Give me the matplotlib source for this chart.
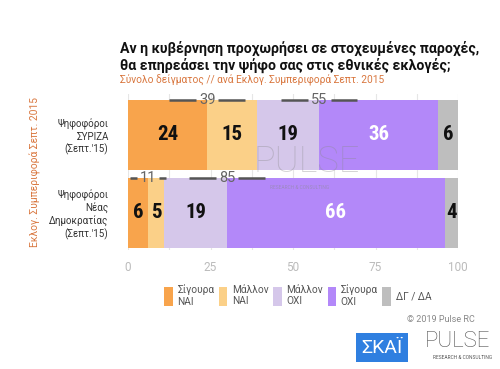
import numpy as np
import matplotlib.pyplot as plt
from matplotlib import font_manager
from matplotlib.patches import Patch

# DATA
groups = ["Ψηφοφόροι\nΣΥΡΙΖΑ\n(Σεπτ.'15)", "Ψηφοφόροι\nΝέας\nΔημοκρατίας\n(Σεπτ.'15)"]
answers = ["Σίγουρα\nΝΑΙ", "Μάλλον\nΝΑΙ", "Μάλλον\nΟΧΙ", "Σίγουρα\nΟΧΙ", "ΔΓ / ΔΑ"]
sure_yes = [24, 6]
maybe_yes = [15, 5]
maybe_no = [19, 19]
sure_no = [36, 66]
dont_know = [6, 4]
yes_total = [39, 11]
no_total = [55, 85]
ticks = [0, 25, 50, 75, 100]

# STYLE
colors = ["#F8A44C", "#FBD088", "#D5C7EA", "#B388F9", "#BEBEBE"]
label_colors = ["#111111", "#111111", "#111111", "white", "#111111"]
plt.rcParams["font.family"] = ["Roboto", "DejaVu Sans"]

# pick a narrow font for the numbers if one is installed
installed = {f.name for f in font_manager.fontManager.ttflist}
narrow = None
for name in ["Roboto Condensed", "Liberation Sans Narrow", "DejaVu Sans Condensed"]:
    if name in installed:
        narrow = name
        break
num_font = dict(family=[narrow, "DejaVu Sans"] if narrow else ["Roboto", "DejaVu Sans"])
num_size = 15 if narrow else 14

fig = plt.figure(figsize=(5, 3.69), dpi=100)
ax = fig.add_axes([0.256, 0.3225, 0.66, 0.4215])

series = [sure_yes, maybe_yes, maybe_no, sure_no, dont_know]
y = np.arange(len(groups))
left = np.zeros(len(groups))
for vals, col, tcol in zip(series, colors, label_colors):
    ax.barh(y, vals, left=left, height=0.9, color=col, zorder=2)
    for i, v in enumerate(vals):
        ax.text(left[i] + v / 2, y[i], str(v), ha="center", va="center",
                fontsize=num_size, fontweight="bold", color=tcol, zorder=4, **num_font)
    left = left + np.array(vals)

# bracket totals
def bracket(center, total, yy):
    half = min(total / 2, 11.5)
    gap = 3.4
    ax.plot([center - half, center - gap], [yy, yy], color="#555555", lw=1.8, zorder=5,
            solid_capstyle="butt")
    ax.plot([center + gap, center + half], [yy, yy], color="#555555", lw=1.8, zorder=5,
            solid_capstyle="butt")
    ax.text(center, yy, str(total), ha="center", va="center", fontsize=10.5,
            color="#666666", zorder=6)

for i in range(len(groups)):
    top = y[i] - 0.45
    bracket(sure_yes[i], yes_total[i], top)
    bracket(sure_yes[i] + maybe_yes[i] + maybe_no[i], no_total[i], top)

ax.set_xlim(0, 100)
ax.set_ylim(1.48, -0.52)
ax.set_xticks(ticks)
ax.set_xticks(np.arange(0, 101, 12.5), minor=True)
ax.tick_params(axis="x", length=0, colors="#BBBBBB", labelsize=8.5, pad=8)
ax.tick_params(axis="x", which="minor", length=0)
ax.grid(axis="x", which="both", color="#E6E6E6", lw=0.8, zorder=0)
ax.set_yticks(y)
ax.set_yticklabels(groups, fontsize=7, color="#333333", ha="right", linespacing=1.2)
ax.tick_params(axis="y", length=0, pad=14)
for s in ax.spines.values():
    s.set_visible(False)

# watermark
ax.text(54, 0.35, "PULSE", ha="center", va="center", fontsize=26, color="#888888",
        alpha=0.35, fontweight="light", zorder=7)
ax.text(52, 0.68, "RESEARCH & CONSULTING", ha="center", va="center", fontsize=3.5,
        color="#888888", alpha=0.5, zorder=7)

# titles
fig.text(0.24, 0.846, "Αν η κυβέρνηση προχωρήσει σε στοχευμένες παροχές,\nθα επηρεάσει την ψήφο σας στις εθνικές εκλογές;",
         fontsize=10.2, fontweight="bold", color="#111111", va="center", linespacing=1.2)
fig.text(0.24, 0.783, "Σύνολο δείγματος // ανά Εκλογ. Συμπεριφορά Σεπτ. 2015",
         fontsize=7.3, color="#D9773F", va="center")
fig.text(0.07, 0.535, "Εκλογ. Συμπεριφορά Σεπτ. 2015", rotation=90, fontsize=7.4,
         color="#D9773F", ha="center", va="center")

# legend
handles = [Patch(facecolor=c, edgecolor="none") for c in colors]
leg = fig.legend(handles, answers, loc="center left", bbox_to_anchor=(0.328, 0.199), ncol=5,
                 frameon=False, handlelength=0.85, handleheight=2.5, handletextpad=0.45,
                 columnspacing=0.45, fontsize=7.3, labelcolor="#555555", borderpad=0,
                 borderaxespad=0)
for t in leg.get_texts():
    t.set_multialignment("left")

fig.text(0.95, 0.133, "© 2019 Pulse RC", fontsize=6.5, color="#888888", ha="right", va="center")

# logos
fig.text(0.764, 0.058, "ΣΚΑΪ", fontsize=14, color="white", ha="center", va="center",
         bbox=dict(boxstyle="square,pad=0.3", facecolor="#2F7FE0", edgecolor="none"))
fig.text(0.915, 0.075, "PULSE", fontsize=16, color="#555555", ha="center", va="center",
         fontweight="light")
fig.text(0.925, 0.032, "RESEARCH & CONSULTING", fontsize=3.5, color="#555555", ha="center",
         va="center")

fig.savefig("out.png", dpi=100)
